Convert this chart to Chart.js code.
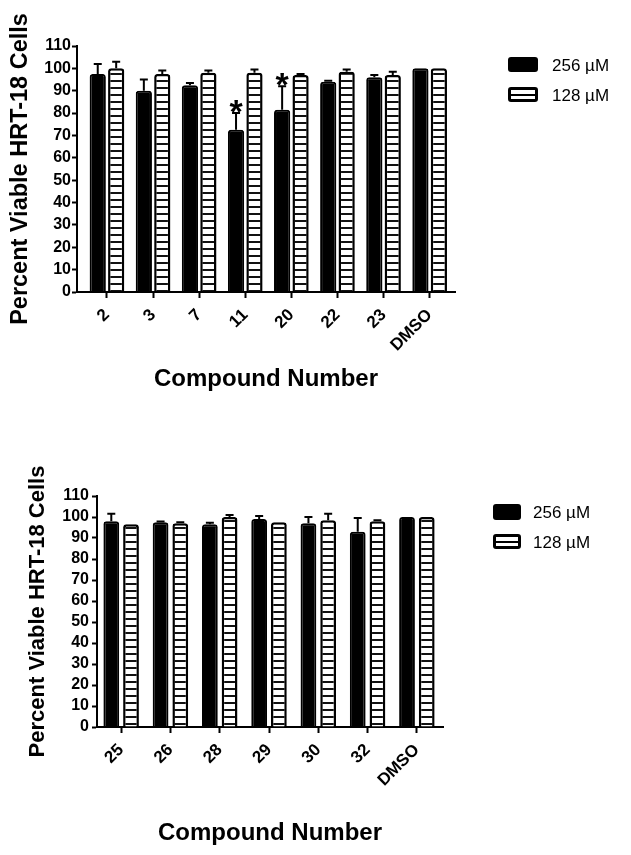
<!DOCTYPE html>
<html>
<head>
<meta charset="utf-8">
<script src="https://cdn.jsdelivr.net/npm/chart.js@4.4.1/dist/chart.umd.min.js"></script>
<style>
  body { margin: 0; background: #fff; width: 631px; height: 855px; position: relative; overflow: hidden; }
  canvas { position: absolute; left: 0; }
  .leg { position: absolute; font-family: 'Liberation Sans', Arial, sans-serif; font-size: 17px; color: #000; }
  .row { position: absolute; left: 0; height: 16px; white-space: nowrap; }
  .sw { position: absolute; left: 0; top: 0; box-sizing: border-box; border-radius: 3px; }
  .sw.black { background: #000; }
  .sw.striped { background: #fff; border: 3px solid #000; }
  .sw.striped::after { content: ''; position: absolute; left: 0; right: 0; top: 50%; height: 2px; margin-top: -1px; background: #000; }
  .txt { position: absolute; top: 50%; transform: translateY(-50%); line-height: 1; }
</style>
</head>
<body>
<canvas id="chart1" width="631" height="430" style="top:0"></canvas>
<canvas id="chart2" width="631" height="415" style="top:440px"></canvas>

<div class="leg" style="left:508px; top:57px;">
  <div class="row" style="top:0"><div class="sw black" style="width:30px;height:15px"></div><span class="txt" style="left:44px">256 µM</span></div>
  <div class="row" style="top:30px"><div class="sw striped" style="width:30px;height:15px"></div><span class="txt" style="left:44px">128 µM</span></div>
</div>
<div class="leg" style="left:493px; top:504px;">
  <div class="row" style="top:0"><div class="sw black" style="width:28px;height:16px"></div><span class="txt" style="left:40px">256 µM</span></div>
  <div class="row" style="top:30px"><div class="sw striped" style="width:28px;height:15px"></div><span class="txt" style="left:40px">128 µM</span></div>
</div>

<script>
// top panel
const compounds1 = ['2', '3', '7', '11', '20', '22', '23', 'DMSO'];
const viab256_1 = [97.5, 90, 92.5, 72.5, 81.5, 94, 96, 100];
const err256_1 = [4.5, 5, 1, 7.5, 10.5, 0.5, 1, 0];
const viab128_1 = [100, 97.5, 98, 98, 97, 98.5, 97, 100];
const err128_1 = [3, 1.5, 1, 1.5, 0.5, 1, 1.5, 0];
const signif1 = ['', '', '', '*', '*', '', '', ''];

// bottom panel
const compounds2 = ['25', '26', '28', '29', '30', '32', 'DMSO'];
const viab256_2 = [98, 97.5, 96.5, 99, 97, 93, 100];
const err256_2 = [3.5, 0.3, 0.8, 1.5, 3, 6.5, 0];
const viab128_2 = [96.5, 97, 100, 97.5, 98.5, 98, 100];
const err128_2 = [0, 0.5, 1, 0, 3, 0.5, 0];
const signif2 = ['', '', '', '', '', '', ''];

const yTicks = [0, 10, 20, 30, 40, 50, 60, 70, 80, 90, 100, 110];
const seriesNames = ['256 µM', '128 µM'];

const FONT = "'Liberation Sans', Arial, sans-serif";

// horizontal stripe fill for the 128 uM bars
function stripes() {
  const c = document.createElement('canvas');
  c.width = 10; c.height = 7;
  const g = c.getContext('2d');
  g.fillStyle = '#fff';
  g.fillRect(0, 0, 10, 7);
  g.fillStyle = '#111';
  g.fillRect(0, 3, 10, 2);
  return g.createPattern(c, 'repeat');
}

const errorBars = {
  id: 'errorBars',
  afterDatasetsDraw(chart) {
    const ctx = chart.ctx;
    const y = chart.scales.y;
    const errs = chart.options.plugins.errorBars.errs;
    const sig = chart.options.plugins.errorBars.sig;
    ctx.save();
    ctx.strokeStyle = '#000';
    ctx.lineWidth = 2;
    chart.data.datasets.forEach((ds, d) => {
      const meta = chart.getDatasetMeta(d);
      meta.data.forEach((bar, i) => {
        const v = ds.data[i].y;
        const e = errs[d][i];
        const top = y.getPixelForValue(v + e);
        if (e > 0) {
          ctx.beginPath();
          ctx.moveTo(bar.x, bar.y);
          ctx.lineTo(bar.x, top);
          ctx.moveTo(bar.x - 4, top);
          ctx.lineTo(bar.x + 4, top);
          ctx.stroke();
        }
        if (d === 0 && sig[i]) {
          ctx.fillStyle = '#000';
          ctx.font = 'bold 34px ' + FONT;
          ctx.textAlign = 'center';
          ctx.textBaseline = 'alphabetic';
          ctx.fillText(sig[i], bar.x, top + 10);
        }
      });
    });
    ctx.restore();
  }
};

function makeChart(id, labels, v256, e256, v128, e128, sig, g) {
  new Chart(document.getElementById(id), {
    type: 'bar',
    data: {
      datasets: [
        {
          label: seriesNames[0],
          data: v256.map((v, i) => ({ x: i, y: v })),
          backgroundColor: '#000',
          borderColor: '#000',
          borderWidth: 2,
          borderRadius: 3,
          borderSkipped: 'bottom',
          categoryPercentage: g.cp,
          barPercentage: g.bp
        },
        {
          label: seriesNames[1],
          data: v128.map((v, i) => ({ x: i, y: v })),
          backgroundColor: stripes(),
          borderColor: '#000',
          borderWidth: 2.5,
          borderRadius: 3,
          borderSkipped: 'bottom',
          categoryPercentage: g.cp,
          barPercentage: g.bp
        }
      ]
    },
    options: {
      responsive: false,
      animation: false,
      devicePixelRatio: 1,
      layout: { padding: g.pad },
      plugins: {
        legend: { display: false },
        tooltip: { enabled: false },
        errorBars: { errs: [e256, e128], sig: sig }
      },
      scales: {
        x: {
          type: 'linear',
          min: g.xmin,
          max: g.xmax,
          offset: false,
          grid: { offset: false, drawOnChartArea: false, drawTicks: true, tickLength: 6, tickColor: '#000', tickWidth: 2 },
          border: { display: true, color: '#000', width: 2 },
          ticks: {
            stepSize: 1,
            includeBounds: false,
            autoSkip: false,
            minRotation: 45,
            maxRotation: 45,
            padding: 7,
            color: '#000',
            font: { family: FONT, size: 17, weight: 'bold' },
            callback: (v) => labels[v] ?? ''
          },
          title: {
            display: true,
            text: 'Compound Number',
            color: '#000',
            font: { family: FONT, size: 24, weight: 'bold' },
            padding: { top: 0, bottom: 0 }
          },
          afterFit: (s) => { s.height = g.xh; }
        },
        y: {
          min: 0,
          max: 110,
          afterBuildTicks: (s) => { s.ticks = yTicks.map(v => ({ value: v })); },
          grid: { drawOnChartArea: false, drawTicks: true, tickLength: 5, tickColor: '#000', tickWidth: 2 },
          border: { display: true, color: '#000', width: 2 },
          ticks: {
            autoSkip: false,
            padding: g.ypad,
            color: '#000',
            font: { family: FONT, size: 16, weight: 'bold' }
          },
          title: {
            display: true,
            text: 'Percent Viable HRT-18 Cells',
            color: '#000',
            font: { family: FONT, size: g.ytitle, weight: 'bold' },
            padding: { top: g.ytpad, bottom: 0 }
          },
          afterFit: (s) => { s.width = g.yw; }
        }
      }
    },
    plugins: [errorBars]
  });
}

makeChart('chart1', compounds1, viab256_1, err256_1, viab128_1, err128_1, signif1, {
  cp: 0.8, bp: 0.88, xmin: -0.65, xmax: 7.55,
  pad: { left: 0, right: 176, top: 46, bottom: 36 },
  xh: 102, yw: 77, ypad: 1, ytitle: 23.5, ytpad: 6
});

makeChart('chart2', compounds2, viab256_2, err256_2, viab128_2, err128_2, signif2, {
  cp: 0.8, bp: 0.8, xmin: -0.49, xmax: 6.53,
  pad: { left: 0, right: 188, top: 56, bottom: 7 },
  xh: 121, yw: 97, ypad: 3, ytitle: 22, ytpad: 25
});
</script>
</body>
</html>
